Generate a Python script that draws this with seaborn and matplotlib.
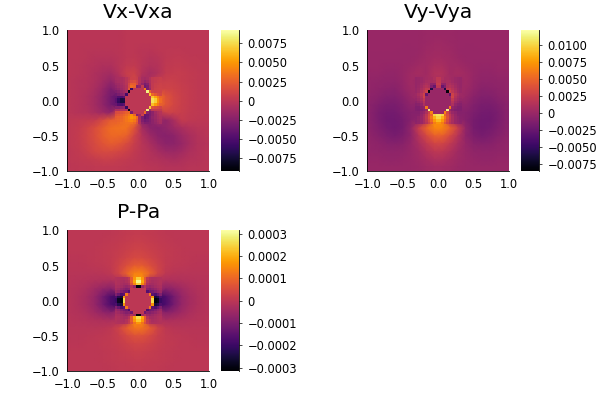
import numpy as np
import matplotlib
matplotlib.use("Agg")
import matplotlib.pyplot as plt
import seaborn as sns

# coarse values cover the whole square, one value every 1/9 of a unit
# the fine values are the 18x18 cells around the hole
# rows go top to bottom
vx_coarse = [
    [-1,-1,-1,-1,-1,-1,-1,0,0,0,0,0,0,0,0,0,0,0],
    [-1,-1,-1,-1,-1,-1,-1,0,0,0,0,0,0,0,0,0,0,0],
    [-1,-1,-2,-2,-2,-2,-1,0,0,-1,-1,0,1,1,1,0,0,0],
    [-1,-1,-2,-3,-3,-3,-2,0,1,-1,-3,-2,1,2,2,1,1,0],
    [-1,-2,-3,-4,-6,-6,-2,2,3,-2,-5,-3,2,3,3,2,1,1],
    [-1,-2,-3,-6,-9,-11,-4,6,8,-4,-10,-5,3,5,5,3,2,1],
    [-2,-3,-4,-7,-12,-18,0,0,0,0,0,0,7,7,5,3,2,1],
    [-2,-3,-5,-9,-16,-28,0,0,0,0,0,0,10,9,6,4,2,1],
    [-2,-3,-6,-11,-20,-32,0,0,0,0,0,0,20,12,7,4,2,1],
    [-2,-3,-6,-11,-20,-32,0,0,0,0,0,0,20,12,7,4,2,1],
    [-2,-3,-5,-9,-14,-20,0,0,0,0,0,0,9,8,6,3,2,1],
    [1,2,3,5,14,24,0,0,0,0,0,0,-20,-8,4,2,1,0],
    [2,4,9,16,24,32,34,34,20,-10,-22,-24,-20,-14,-8,-4,-2,-1],
    [2,5,10,16,24,30,30,26,10,-4,-14,-22,-24,-22,-14,-8,-4,-2],
    [2,4,9,14,20,24,22,15,6,-2,-8,-16,-22,-22,-17,-10,-5,-3],
    [1,3,7,12,14,14,12,8,3,-1,-5,-10,-14,-15,-12,-7,-4,-2],
    [1,2,3,5,7,7,5,3,1,-1,-3,-5,-7,-8,-6,-4,-3,-2],
    [0,1,1,2,2,2,2,1,0,0,-1,-2,-3,-3,-3,-2,-2,-1],
]
vx_fine = [
    [-10,-9,-8,-6,-2,3,8,8,6,-3,-10,-12,-10,-5,2,4,5,6],
    [-12,-10,-8,-6,-1,6,14,16,10,-4,-12,-18,-14,-6,2,4,6,7],
    [-15,-13,-10,-7,-2,12,25,25,12,-6,-18,-30,-24,-8,3,6,7,8],
    [-18,-15,-12,-8,-4,15,32,28,-25,-20,5,-35,-30,-10,3,7,8,9],
    [-22,-18,-14,-10,-5,22,-60,0,0,0,0,40,-30,-15,4,8,9,10],
    [-28,-24,-18,-14,-8,-82,0,0,0,0,0,0,85,25,10,9,10,10],
    [-35,-30,-25,-20,-55,0,0,0,0,0,0,0,0,65,30,22,15,12],
    [-40,-48,-50,-45,0,0,0,0,0,0,0,0,0,0,68,55,40,28],
    [-45,-60,-72,-70,0,0,0,0,0,0,0,0,0,0,78,70,48,32],
    [-45,-62,-72,-72,0,0,0,0,0,0,0,0,0,0,78,70,48,32],
    [-38,-48,-50,-45,0,0,0,0,0,0,0,0,0,0,65,52,38,26],
    [-25,-25,-22,-18,-60,0,0,0,0,0,0,0,0,70,18,14,12,10],
    [-6,-6,-5,-4,-3,-85,0,0,0,0,0,0,85,-15,2,3,3,3],
    [14,16,18,22,26,30,-30,0,0,0,0,30,-25,-30,-22,-12,-6,-3],
    [20,22,24,28,32,38,48,30,-25,-15,8,-40,-38,-30,-22,-14,-8,-5],
    [24,26,28,32,36,42,50,45,30,-10,-30,-42,-36,-28,-20,-15,-10,-7],
    [26,28,30,33,36,40,42,38,24,-8,-28,-35,-32,-28,-22,-17,-12,-9],
    [28,30,32,33,34,34,34,30,18,-6,-22,-28,-28,-26,-22,-18,-14,-10],
]

vy_coarse = [
    [0,0,0,0,0,0,0,1,1,1,1,0,0,0,0,0,0,0],
    [0,0,0,0,0,0,0,1,2,2,1,0,0,0,0,0,0,0],
    [0,0,0,0,-1,-1,0,2,3,3,2,0,-1,-1,0,0,0,0],
    [-1,-1,-1,-1,-1,-1,1,3,5,5,3,1,-1,-1,-1,-1,-1,-1],
    [-1,-1,-2,-2,-1,1,3,4,8,8,4,3,1,-1,-2,-2,-1,-1],
    [-2,-2,-3,-3,-1,3,6,4,12,12,4,6,3,-1,-3,-3,-2,-2],
    [-3,-4,-5,-5,-2,4,0,0,0,0,0,0,4,-2,-5,-5,-4,-3],
    [-4,-6,-7,-8,-3,2,0,0,0,0,0,0,2,-3,-8,-7,-6,-4],
    [-6,-8,-11,-11,-7,-1,0,0,0,0,0,0,-1,-7,-11,-11,-8,-6],
    [-8,-12,-15,-15,-11,-5,0,0,0,0,0,0,-5,-11,-15,-15,-12,-8],
    [-9,-15,-19,-18,-14,-10,0,0,0,0,0,0,-10,-14,-18,-19,-15,-9],
    [-9,-15,-20,-20,-17,-10,0,0,0,0,0,0,-10,-17,-20,-20,-15,-9],
    [-8,-13,-18,-20,-17,-4,24,48,66,66,48,24,-4,-17,-20,-18,-13,-8],
    [-6,-10,-14,-16,-13,-5,14,32,46,46,32,14,-5,-13,-16,-14,-10,-6],
    [-4,-6,-9,-10,-8,-2,8,20,30,30,20,8,-2,-8,-10,-9,-6,-4],
    [-3,-4,-5,-5,-4,-1,4,12,18,18,12,4,-1,-4,-5,-5,-4,-3],
    [-2,-2,-3,-3,-2,0,2,6,10,10,6,2,0,-2,-3,-3,-2,-2],
    [-1,-1,-1,-1,-1,0,1,3,5,5,3,1,0,-1,-1,-1,-1,-1],
]
vy_fine = [
    [-2,-1,1,3,5,6,6,10,18,18,10,6,6,5,3,1,-1,-2],
    [-2,-1,1,4,7,8,6,8,20,20,8,6,8,7,4,1,-1,-2],
    [-2,0,3,7,10,8,-5,-5,24,24,-5,-5,8,10,7,3,0,-2],
    [-2,1,5,10,14,10,-12,-25,18,18,-25,-12,10,14,10,5,1,-2],
    [-1,2,8,14,22,20,-60,0,0,0,0,-60,20,22,14,8,2,-1],
    [-1,3,10,18,28,-80,0,0,0,0,0,0,-80,28,18,10,3,-1],
    [2,8,16,28,-25,0,0,0,0,0,0,0,0,-25,28,16,8,2],
    [1,5,12,30,0,0,0,0,0,0,0,0,0,0,30,12,5,1],
    [-2,2,8,22,0,0,0,0,0,0,0,0,0,0,22,8,2,-2],
    [-6,-2,3,15,0,0,0,0,0,0,0,0,0,0,15,3,-2,-6],
    [-10,-8,-3,10,0,0,0,0,0,0,0,0,0,0,10,-3,-8,-10],
    [-12,-12,-8,-3,60,0,0,0,0,0,0,0,0,60,-3,-8,-12,-12],
    [-12,-13,-12,-8,0,115,0,0,0,0,0,0,115,0,-8,-12,-13,-12],
    [-10,-10,-5,0,10,30,65,0,0,0,0,65,30,10,0,-5,-10,-10],
    [-9,-8,-2,6,18,35,50,100,105,105,100,50,35,18,6,-2,-8,-9],
    [-8,-5,0,8,20,38,60,85,100,100,85,60,38,20,8,0,-5,-8],
    [-7,-4,0,8,18,34,52,75,88,88,75,52,34,18,8,0,-4,-7],
    [-6,-3,0,7,15,28,42,62,72,72,62,42,28,15,7,0,-3,-6],
]

p_coarse = [
    [0,0,0,0,2,4,6,10,14,14,10,6,4,2,0,0,0,0],
    [0,0,0,2,4,7,11,16,20,20,16,11,7,4,2,0,0,0],
    [0,0,1,3,6,10,16,24,30,30,24,16,10,6,3,1,0,0],
    [-2,-1,0,3,6,12,22,34,46,46,34,22,12,6,3,0,-1,-2],
    [-3,-3,-2,0,4,10,30,55,80,80,55,30,10,4,0,-2,-3,-3],
    [-5,-6,-6,-5,-4,4,35,90,140,140,90,35,4,-4,-5,-6,-6,-5],
    [-8,-10,-14,-18,-22,-25,0,0,0,0,0,0,-25,-22,-18,-14,-10,-8],
    [-10,-16,-26,-42,-65,-80,0,0,0,0,0,0,-80,-65,-42,-26,-16,-10],
    [-12,-20,-35,-60,-110,-170,0,0,0,0,0,0,-170,-110,-60,-35,-20,-12],
    [-12,-20,-35,-60,-110,-170,0,0,0,0,0,0,-170,-110,-60,-35,-20,-12],
    [-10,-16,-26,-42,-65,-80,0,0,0,0,0,0,-80,-65,-42,-26,-16,-10],
    [-8,-10,-14,-18,-22,-25,0,0,0,0,0,0,-25,-22,-18,-14,-10,-8],
    [-5,-6,-6,-5,-4,4,30,80,120,120,80,30,4,-4,-5,-6,-6,-5],
    [-3,-3,-2,0,3,8,22,42,60,60,42,22,8,3,0,-2,-3,-3],
    [-2,-1,0,2,5,9,16,26,36,36,26,16,9,5,2,0,-1,-2],
    [0,0,1,2,4,7,11,17,22,22,17,11,7,4,2,1,0,0],
    [0,0,0,1,3,5,8,11,14,14,11,8,5,3,1,0,0,0],
    [0,0,0,0,2,3,5,7,9,9,7,5,3,2,0,0,0,0],
]
p_fine = [
    [-15,-18,-22,-24,-15,5,80,170,240,240,170,80,5,-15,-24,-22,-18,-15],
    [-15,-20,-25,-30,-20,-5,90,190,300,300,190,90,-5,-20,-30,-25,-20,-15],
    [-18,-24,-30,-38,-35,-20,60,150,240,240,150,60,-20,-35,-38,-30,-24,-18],
    [-25,-30,-38,-50,-60,-50,-10,-60,-300,-300,-60,-10,-50,-60,-50,-38,-30,-25],
    [-35,-45,-60,-75,-90,-80,10,0,0,0,0,10,-80,-90,-75,-60,-45,-35],
    [-50,-65,-90,-110,-120,-160,0,0,0,0,0,0,-160,-120,-110,-90,-65,-50],
    [-90,-130,-170,-150,130,0,0,0,0,0,0,0,0,130,-150,-170,-130,-90],
    [-170,-230,-250,170,0,0,0,0,0,0,0,0,0,0,170,-250,-230,-170],
    [-200,-280,-300,260,0,0,0,0,0,0,0,0,0,0,260,-300,-280,-200],
    [-200,-280,-300,260,0,0,0,0,0,0,0,0,0,0,260,-300,-280,-200],
    [-170,-230,-250,170,0,0,0,0,0,0,0,0,0,0,170,-250,-230,-170],
    [-90,-130,-170,-150,130,0,0,0,0,0,0,0,0,130,-150,-170,-130,-90],
    [-50,-65,-90,-110,-120,-170,0,0,0,0,0,0,-170,-120,-110,-90,-65,-50],
    [-35,-45,-60,-75,-90,-80,-120,0,0,0,0,-120,-80,-90,-75,-60,-45,-35],
    [-25,-30,-38,-50,-60,-50,-10,-40,-310,-310,-40,-10,-50,-60,-50,-38,-30,-25],
    [-18,-24,-30,-38,-35,-10,80,190,260,260,190,80,-10,-35,-38,-30,-24,-18],
    [-15,-20,-25,-30,-15,10,80,170,230,230,170,80,10,-15,-30,-25,-20,-15],
    [-15,-18,-22,-24,-10,15,60,120,170,170,120,60,15,-10,-24,-22,-18,-15],
]

axis_ticks = [-1.0, -0.5, 0.0, 0.5, 1.0]
vx_bar_ticks = [-0.0075, -0.005, -0.0025, 0, 0.0025, 0.005, 0.0075]
vy_bar_ticks = [-0.0075, -0.005, -0.0025, 0, 0.0025, 0.005, 0.0075, 0.01]
p_bar_ticks = [-0.0003, -0.0002, -0.0001, 0, 0.0001, 0.0002, 0.0003]

W, H = 600, 400
FONT = 8.3


def minus(s):
    return s.replace("-", "\u2212")


def outer_layer(coarse, fine, scale):
    # the middle of the coarse grid is hidden under the fine cells,
    # it only has to blend into them, so take the mean of each 3x3 block
    grid = np.array(coarse, dtype=float)
    blocks = np.array(fine, dtype=float).reshape(6, 3, 6, 3).mean(axis=(1, 3))
    grid[6:12, 6:12] = blocks
    return np.pad(grid, 1, mode="edge") * scale


def panel(fig, left, top, title, coarse, fine, scale, vmin, vmax, bar_ticks):
    ax = fig.add_axes([left / W, 1 - (top + 141) / H, 142 / W, 141 / H])
    cax = fig.add_axes([(left + 153.5) / W, 1 - (top + 141) / H, 18.3 / W, 141 / H])
    sns.heatmap(outer_layer(coarse, fine, scale), ax=ax, cbar_ax=cax, cmap="inferno",
                vmin=vmin, vmax=vmax, shading="gouraud",
                xticklabels=False, yticklabels=False)
    ax.set_xlim(0.5, 18.5)
    ax.set_ylim(18.5, 0.5)

    labels = [minus(f"{t:.1f}") for t in axis_ticks]
    ax.set_xticks(np.linspace(0.5, 18.5, 5))
    ax.set_xticklabels(labels, rotation=0, fontsize=FONT)
    ax.set_yticks(np.linspace(18.5, 0.5, 5))
    ax.set_yticklabels(labels, rotation=0, fontsize=FONT)
    ax.tick_params(direction="in", length=2, width=0.5, color="black")
    ax.tick_params(axis="x", pad=4.5)
    ax.tick_params(axis="y", pad=5.5)
    for side, spine in ax.spines.items():
        spine.set_visible(side in ("left", "bottom"))
        spine.set_linewidth(0.6)
        spine.set_color("black")
    ax.set_title(title, fontsize=14.7, pad=9, color="black")

    # cells around the hole, on the middle third of the square
    inner = fig.add_axes([(left + 142 / 3) / W, 1 - (top + 2 * 141 / 3) / H, (142 / 3) / W, (141 / 3) / H])
    sns.heatmap(np.array(fine, dtype=float) * scale, ax=inner, cbar=False, cmap="inferno",
                vmin=vmin, vmax=vmax, xticklabels=False, yticklabels=False)
    inner.tick_params(left=False, bottom=False)

    cax.set_yticks(bar_ticks)
    cax.set_yticklabels(["0" if t == 0 else minus(format(t, ".4f")) for t in bar_ticks], fontsize=FONT)
    cax.tick_params(direction="out", length=2.5, width=0.5, pad=3.5, color="black")
    for side, spine in cax.spines.items():
        spine.set_visible(side == "right")
        spine.set_linewidth(0.6)
        spine.set_color("black")


def main():
    sns.set_theme(style="white", rc={"text.color": "black", "xtick.color": "black", "ytick.color": "black"})
    fig = plt.figure(figsize=(W / 100, H / 100), dpi=100)

    panel(fig, 67.3, 30.3, "Vx-Vxa", vx_coarse, vx_fine, 1e-4, -0.0092, 0.0092, vx_bar_ticks)
    panel(fig, 367.3, 30.3, "Vy-Vya", vy_coarse, vy_fine, 1e-4, -0.0085, 0.0121, vy_bar_ticks)
    panel(fig, 67.3, 230.3, "P-Pa", p_coarse, p_fine, 1e-6, -0.000316, 0.000316, p_bar_ticks)

    fig.savefig("out.png", dpi=100)


if __name__ == "__main__":
    main()
